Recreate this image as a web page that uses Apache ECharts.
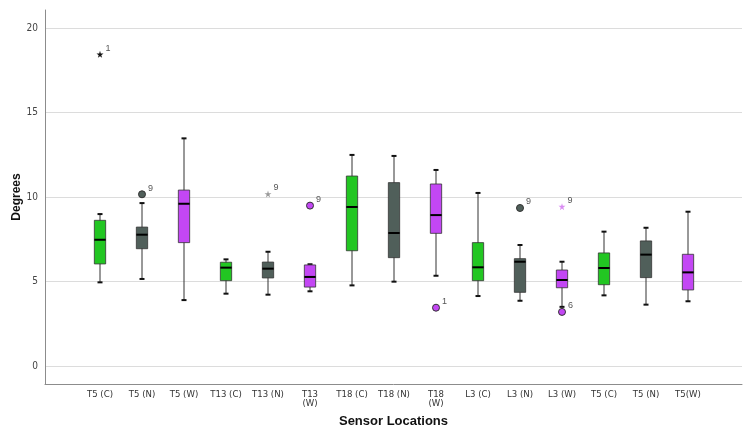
<!DOCTYPE html>
<html>
<head>
<meta charset="utf-8">
<script src="https://cdn.jsdelivr.net/npm/echarts@6/dist/echarts.min.js"></script>
<style>
html,body{margin:0;padding:0;background:#fff}
#chart{width:752px;height:434px}
</style>
</head>
<body>
<div id="chart"></div>
<script>
var categories = ['T5 (C)','T5 (N)','T5 (W)','T13 (C)','T13 (N)','T13\n(W)','T18 (C)','T18 (N)','T18\n(W)','L3 (C)','L3 (N)','L3 (W)','T5 (C)','T5 (N)','T5(W)'];
var whiskerLow  = [4.95, 5.15, 3.90, 4.28, 4.22, 4.42, 4.77, 4.99, 5.34, 4.14, 3.86, 3.50, 4.18, 3.63, 3.83];
var quart1      = [6.04, 6.94, 7.30, 5.05, 5.21, 4.67, 6.82, 6.41, 7.85, 5.05, 4.36, 4.63, 4.81, 5.23, 4.50];
var medians     = [7.47, 7.77, 9.60, 5.82, 5.76, 5.27, 9.41, 7.87, 8.93, 5.84, 6.17, 5.09, 5.80, 6.59, 5.54];
var quart3      = [8.62, 8.22, 10.41, 6.14, 6.15, 5.98, 11.24, 10.85, 10.77, 7.30, 6.35, 5.68, 6.69, 7.40, 6.61];
var whiskerHigh = [8.99, 9.64, 13.47, 6.31, 6.76, 6.02, 12.49, 12.43, 11.60, 10.24, 7.16, 6.17, 7.95, 8.18, 9.13];
// outliers (circles) and extremes (stars)
var outlierCat = [1, 5, 8, 10, 11];
var outlierVal = [10.16, 9.49, 3.45, 9.35, 3.20];
var outlierId  = ['9', '9', '1', '9', '6'];
var extremeCat = [0, 4, 11];
var extremeVal = [18.44, 10.18, 9.43];
var extremeId  = ['1', '9', '9'];

var groupColors = ['#22c622', '#505f5a', '#c347f4'];
var extremeColors = ['#111111', '#9a9a9a', '#d98cf2'];
var narrow = "'Liberation Sans Narrow', 'DejaVu Sans Condensed', sans-serif";
var star = 'path://M50,0 L61,35 L98,35 L68,57 L79,91 L50,70 L21,91 L32,57 L2,35 L39,35 Z';

var boxData = [];
for (var i = 0; i < categories.length; i++) {
    boxData.push([i, whiskerLow[i], quart1[i], medians[i], quart3[i], whiskerHigh[i]]);
}
var outData = [];
for (var i = 0; i < outlierCat.length; i++) {
    outData.push([outlierCat[i], outlierVal[i], outlierId[i]]);
}
var extData = [];
for (var i = 0; i < extremeCat.length; i++) {
    extData.push({value: [extremeCat[i], extremeVal[i], extremeId[i]], itemStyle: {color: extremeColors[i]}});
}

function renderBox(params, api) {
    var i = api.value(0);
    var pLow = api.coord([i, api.value(1)]);
    var pQ1 = api.coord([i, api.value(2)]);
    var pMed = api.coord([i, api.value(3)]);
    var pQ3 = api.coord([i, api.value(4)]);
    var pHigh = api.coord([i, api.value(5)]);
    var x = pMed[0];
    var bw = api.size([1, 0])[0] * 0.27;
    var cw = 5;
    return {
        type: 'group',
        children: [
            {type: 'line', shape: {x1: x, y1: pHigh[1], x2: x, y2: pLow[1]}, style: {stroke: '#333', lineWidth: 1}},
            {type: 'line', shape: {x1: x - cw / 2, y1: pHigh[1], x2: x + cw / 2, y2: pHigh[1]}, style: {stroke: '#111', lineWidth: 2}},
            {type: 'line', shape: {x1: x - cw / 2, y1: pLow[1], x2: x + cw / 2, y2: pLow[1]}, style: {stroke: '#111', lineWidth: 2}},
            {type: 'rect', shape: {x: x - bw / 2, y: pQ3[1], width: bw, height: pQ1[1] - pQ3[1]},
                style: {fill: groupColors[i % 3], stroke: '#333', lineWidth: 0.8}},
            {type: 'line', shape: {x1: x - bw / 2, y1: pMed[1], x2: x + bw / 2, y2: pMed[1]}, style: {stroke: '#000', lineWidth: 2}}
        ]
    };
}

var option = {
    animation: false,
    backgroundColor: '#fff',
    grid: [
        {left: 45, right: 10, top: 10, bottom: 50},   // frame
        {left: 45, right: 10, top: 28, bottom: 68},   // y labels + grid lines
        {left: 79, right: 43, top: 28, bottom: 68}    // data
    ],
    xAxis: [
        {
            gridIndex: 0, type: 'value', min: 0, max: 1,
            axisLine: {show: true, onZero: false, lineStyle: {color: '#8c8c8c', width: 1}},
            axisTick: {show: false}, axisLabel: {show: false}, splitLine: {show: false},
            name: 'Sensor Locations', nameLocation: 'middle', nameGap: 31,
            nameTextStyle: {fontSize: 13, fontWeight: 'bold', color: '#111', fontFamily: 'Liberation Sans, sans-serif'}
        },
        {
            gridIndex: 1, type: 'value', min: 0, max: 1, show: false
        },
        {
            gridIndex: 2, type: 'category', data: categories, boundaryGap: true,
            axisLine: {show: false}, axisTick: {show: false}, splitLine: {show: false},
            axisLabel: {margin: 24, fontSize: 9.5, color: '#333', fontFamily: narrow, lineHeight: 9, interval: 0}
        }
    ],
    yAxis: [
        {
            gridIndex: 0, type: 'value', min: 0, max: 1,
            axisLine: {show: true, onZero: false, lineStyle: {color: '#8c8c8c', width: 1}},
            axisTick: {show: false}, axisLabel: {show: false}, splitLine: {show: false},
            name: 'Degrees', nameLocation: 'middle', nameGap: 22, nameRotate: 90,
            nameTextStyle: {fontSize: 12, fontWeight: 'bold', color: '#111', fontFamily: 'Liberation Sans, sans-serif'}
        },
        {
            gridIndex: 1, type: 'value', min: 0, max: 20, interval: 5,
            axisLine: {show: false}, axisTick: {show: false},
            axisLabel: {margin: 7, fontSize: 10, color: '#444', fontFamily: narrow},
            splitLine: {show: true, lineStyle: {color: '#dcdcdc', width: 1.2}}
        },
        {
            gridIndex: 2, type: 'value', min: 0, max: 20, show: false
        }
    ],
    series: [
        {
            type: 'custom', xAxisIndex: 2, yAxisIndex: 2,
            renderItem: renderBox,
            encode: {x: 0, y: [1, 2, 3, 4, 5]},
            data: boxData,
            z: 3
        },
        {
            type: 'scatter', xAxisIndex: 2, yAxisIndex: 2,
            symbol: 'circle', symbolSize: 7,
            itemStyle: {
                color: function (p) { return groupColors[p.value[0] % 3]; },
                borderColor: '#333', borderWidth: 1, opacity: 1
            },
            label: {show: true, position: 'right', distance: 2, offset: [0, -6], fontSize: 9, color: '#555',
                formatter: function (p) { return p.value[2]; }},
            data: outData,
            z: 4
        },
        {
            type: 'scatter', xAxisIndex: 2, yAxisIndex: 2,
            symbol: star, symbolSize: 7,
            itemStyle: {opacity: 1},
            label: {show: true, position: 'right', distance: 2, offset: [0, -6], fontSize: 9, color: '#555',
                formatter: function (p) { return p.value[2]; }},
            data: extData,
            z: 4
        }
    ]
};

var chart = echarts.init(document.getElementById('chart'));
chart.setOption(option, true);
</script>
</body>
</html>
